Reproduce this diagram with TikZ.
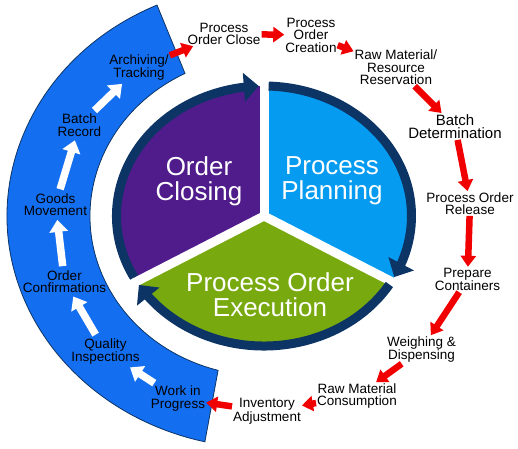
\documentclass[tikz,border=0pt]{standalone}
\usepackage{fontspec}
\setmainfont{Liberation Sans}
\usetikzlibrary{arrows.meta,bending}
\definecolor{bandblue}{RGB}{20,110,240}
\definecolor{planblue}{RGB}{5,155,240}
\definecolor{closepurple}{RGB}{80,28,140}
\definecolor{execgreen}{RGB}{120,170,15}
\definecolor{ringnavy}{RGB}{12,52,100}
\definecolor{arrowred}{RGB}{240,0,0}
\begin{document}
\begin{tikzpicture}[x=1pt, y=1pt,
    every node/.style={align=center, inner sep=1pt, font=\fontsize{13.5}{12.5}\selectfont},
    hub/.style={text=white, font=\fontsize{26}{25}\selectfont},
    ring/.style={draw=ringnavy, line width=9pt, -{Triangle[length=15pt,width=28pt]}},
    redarrow/.style={draw=arrowred, line width=6.5pt, -{Triangle[length=11pt,width=15pt]}},
    whitearrow/.style={draw=white, line width=7.5pt, -{Triangle[length=12pt,width=18pt]}, shorten <=3pt, shorten >=3pt}]
    \useasboundingbox (-264,-232) rectangle (254,216);
    % outer band
    \filldraw[fill=bandblue, draw=ringnavy, line width=0.8pt]
        (114.6:257 and 232) arc[start angle=114.6, end angle=256.7, x radius=257, y radius=232]
        -- (254.7:174 and 160) arc[start angle=254.7, end angle=117, x radius=174, y radius=160] -- cycle;
    % three sectors
    \fill[closepurple] (0,0) -- (90:147.5 and 130) arc[start angle=90, end angle=210, x radius=147.5, y radius=130] -- cycle;
    \fill[planblue] (0,0) -- (-30:147.5 and 130) arc[start angle=-30, end angle=90, x radius=147.5, y radius=130] -- cycle;
    \fill[execgreen] (0,0) -- (210:147.5 and 130) arc[start angle=210, end angle=330, x radius=147.5, y radius=130] -- cycle;
    \foreach \a in {90,210,330} {
        \draw[white, line width=9pt] (0,0) -- (\a:155 and 138);
    }
    \foreach \s/\e in {88.2/-28, -31.8/-148, 208.2/92} {
        \draw[ring] (\s:147.5 and 130) arc[start angle=\s, end angle=\e, x radius=147.5, y radius=130];
    }
    \node[hub] (closing) at (-65,35) {Order\\Closing};
    \node[hub] (planning) at (68,35) {Process\\Planning};
    \node[hub] (execution) at (6,-79) {Process Order\\Execution};
    % outer steps
    \node (o1) at (-40,182) {Process\\Order Close};
    \node (o2) at (47,181) {Process\\Order\\Creation};
    \node (o3) at (132,148.5) {Raw Material/\\Resource\\Reservation};
    \node[font=\fontsize{15}{13.5}\selectfont] (o4) at (191,89.5) {Batch\\Determination};
    \node (o5) at (206,12.5) {Process Order\\Release};
    \node (o6) at (203.5,-63.5) {Prepare\\Containers};
    \node (o7) at (157.5,-133.5) {Weighing \&\\Dispensing};
    \node (o8) at (93,-180) {Raw Material\\Consumption};
    \node (o9) at (3,-195.5) {Inventory\\Adjustment};
    % band steps
    \node (b1) at (-86,-182.5) {Work in\\Progress};
    \node (b2) at (-158.5,-135.5) {Quality\\Inspections};
    \node (b3) at (-199.5,-65.5) {Order\\Confirmations};
    \node (b4) at (-208.5,11.5) {Goods\\Movement};
    \node (b5) at (-184.5,91) {Batch\\Record};
    \node (b6) at (-125,148.5) {Archiving/\\Tracking};
    \foreach \i in {1,...,8} {
        \pgfmathtruncatemacro{\next}{\i+1}
        \draw[redarrow] (o\i) -- (o\next);
    }
    \draw[redarrow] (o9) -- (b1);
    \draw[redarrow] (b6) -- (o1);
    \foreach \i in {1,...,5} {
        \pgfmathtruncatemacro{\next}{\i+1}
        \draw[whitearrow] (b\i) -- (b\next);
    }
\end{tikzpicture}
\end{document}
